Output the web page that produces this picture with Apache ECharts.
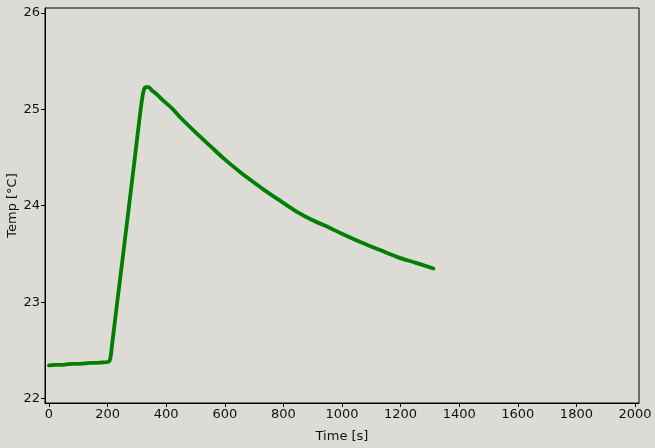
<!DOCTYPE html>
<html><head><meta charset="utf-8">
<script src="https://cdn.jsdelivr.net/npm/echarts@6/dist/echarts.min.js"></script>
<style>html,body{margin:0;padding:0;background:#dcdbd6;}#c{width:655px;height:448px;}</style>
</head><body><div id="c"></div>
<script>
const timeS = [0,20,40,60,80,100,120,140,160,180,200,208,215,230,250,270,290,310,322,330,340,350,370,390,420,450,504,550,600,652,700,731,800,845,900,959,1000,1073,1130,1187,1250,1312];
const tempC = [22.345,22.35,22.35,22.355,22.36,22.36,22.365,22.37,22.37,22.375,22.38,22.40,22.55,22.93,23.42,23.92,24.42,24.93,25.18,25.23,25.23,25.20,25.15,25.09,25.01,24.91,24.75,24.62,24.48,24.35,24.24,24.17,24.03,23.94,23.85,23.77,23.71,23.61,23.54,23.47,23.41,23.35];
const xTicks = [0,200,400,600,800,1000,1200,1400,1600,1800,2000];
const yTicks = [22,23,24,25,26];

const chart = echarts.init(document.getElementById('c'));
const font = 'DejaVu Sans';
chart.setOption({
  backgroundColor: '#dcdbd6',
  animation: false,
  grid: {left: 45, right: 16, top: 8, bottom: 45, containLabel: false, outerBoundsMode: 'none', show: true, borderColor: '#000', borderWidth: 1, backgroundColor: '#dcdbd6'},
  xAxis: {
    type: 'value', min: -13.6, max: 2013.6,
    name: 'Time [s]', nameLocation: 'middle', nameGap: 27, nameMoveOverlap: false,
    nameTextStyle: {fontFamily: font, fontSize: 13, color: '#111'},
    axisLine: {show: true, onZero: false, lineStyle: {color: '#000', width: 1}},
    axisTick: {show: true, length: 4, lineStyle: {color: '#000'}, customValues: xTicks},
    axisLabel: {fontFamily: font, fontSize: 13, color: '#111', margin: 5, customValues: xTicks, formatter: v => String(v)},
    splitLine: {show: false}
  },
  yAxis: {
    type: 'value', min: 21.955, max: 26.05,
    name: 'Temp [°C]', nameLocation: 'middle', nameGap: 26, nameRotate: 90, nameMoveOverlap: false,
    nameTextStyle: {fontFamily: font, fontSize: 13, color: '#111'},
    axisLine: {show: true, onZero: false, lineStyle: {color: '#000', width: 1}},
    axisTick: {show: true, length: 4, lineStyle: {color: '#000'}, customValues: yTicks},
    axisLabel: {fontFamily: font, fontSize: 13, color: '#111', margin: 5, customValues: yTicks, formatter: v => String(v)},
    splitLine: {show: false}
  },
  series: [{
    type: 'line',
    data: timeS.map((t, i) => [t, tempC[i]]),
    showSymbol: false,
    smooth: 0.3,
    lineStyle: {color: '#007f00', width: 3.8, cap: 'round', join: 'round'},
    itemStyle: {color: '#007f00'}
  }]
});
</script></body></html>
